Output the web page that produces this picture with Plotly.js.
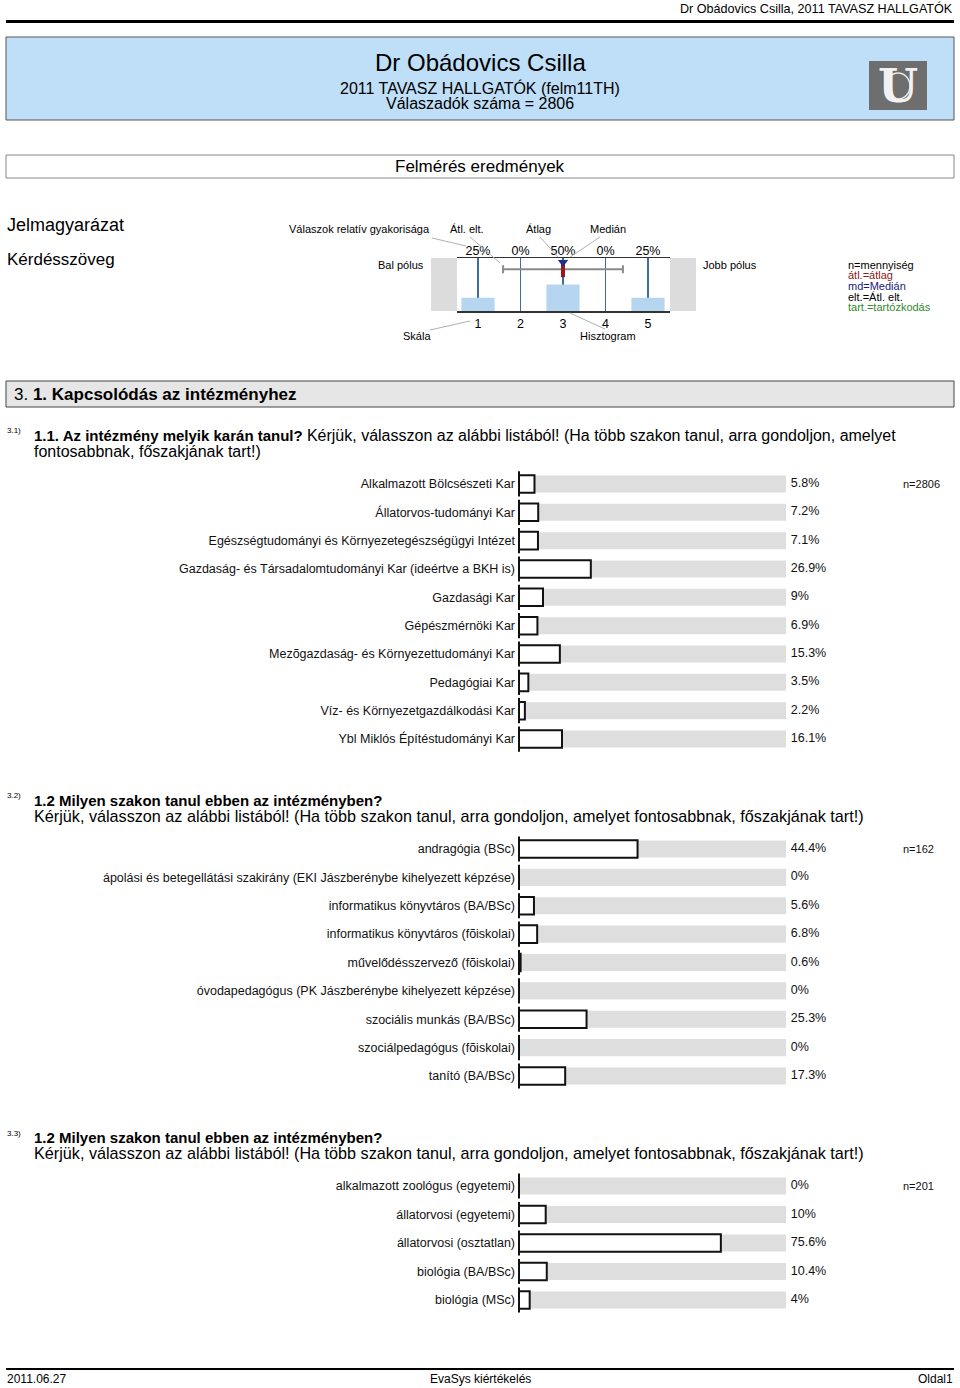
<!DOCTYPE html>
<html><head><meta charset="utf-8">
<script src="https://cdn.plot.ly/plotly-3.0.1.min.js"></script>
<style>html,body{margin:0;padding:0;background:#fff}#chart{width:960px;height:1388px}</style>
</head><body><div id="chart"></div>
<script>
// ---- legend example data ----
const legendScale = [1, 2, 3, 4, 5];
const legendFreq = [25, 0, 50, 0, 25];
const legendMean = 3;
const legendMedian = 3;
const legendSd = 1.41;

// ---- question 3.1 ----
const q1Categories = ["Alkalmazott Bölcsészeti Kar", "Állatorvos-tudományi Kar", "Egészségtudományi és Környezetegészségügyi Intézet", "Gazdaság- és Társadalomtudományi Kar (ideértve a BKH is)", "Gazdasági Kar", "Gépészmérnöki Kar", "Mezõgazdaság- és Környezettudományi Kar", "Pedagógiai Kar", "Víz- és Környezetgazdálkodási Kar", "Ybl Miklós Építéstudományi Kar"];
const q1Values = [5.8, 7.2, 7.1, 26.9, 9, 6.9, 15.3, 3.5, 2.2, 16.1];
const q1N = 2806;

// ---- question 3.2 ----
const q2Categories = ["andragógia (BSc)", "ápolási és betegellátási szakirány (EKI Jászberénybe kihelyezett képzése)", "informatikus könyvtáros (BA/BSc)", "informatikus könyvtáros (fõiskolai)", "művelődésszervező (fõiskolai)", "óvodapedagógus (PK Jászberénybe kihelyezett képzése)", "szociális munkás (BA/BSc)", "szociálpedagógus (fõiskolai)", "tanító (BA/BSc)"];
const q2Values = [44.4, 0, 5.6, 6.8, 0.6, 0, 25.3, 0, 17.3];
const q2N = 162;

// ---- question 3.3 ----
const q3Categories = ["alkalmazott zoológus (egyetemi)", "állatorvosi (egyetemi)", "állatorvosi (osztatlan)", "biológia (BA/BSc)", "biológia (MSc)"];
const q3Values = [0, 10, 75.6, 10.4, 4];
const q3N = 201;

const W = 960, H = 1388;
const FONT = "Liberation Sans, Arial, sans-serif";
const px = x => x / W;
const py = y => 1 - y / H;

const shapes = [];
const annotations = [];
function rect(x0, y0, x1, y1, fill, line, lw) {
  shapes.push({type: 'rect', xref: 'paper', yref: 'paper', x0: px(x0), x1: px(x1), y0: py(y1), y1: py(y0),
    fillcolor: fill, line: {color: line || fill, width: lw === undefined ? 1 : lw}, layer: 'below'});
}
function seg(x0, y0, x1, y1, color, w) {
  shapes.push({type: 'line', xref: 'paper', yref: 'paper', x0: px(x0), x1: px(x1), y0: py(y0), y1: py(y1),
    line: {color: color, width: w || 1}});
}
function txt(x, y, text, size, anchor, color, extra) {
  annotations.push(Object.assign({xref: 'paper', yref: 'paper', x: px(x), y: py(y), text: text, showarrow: false,
    xanchor: anchor || 'left', yanchor: 'middle', borderpad: 0,
    font: {family: FONT, size: size, color: color || '#000'}}, extra || {}));
}

// header
txt(954, 9, "Dr Obádovics Csilla, 2011 TAVASZ HALLGATÓK", 12.6, 'right');
rect(6, 20, 954, 23, '#000', '#000', 0);
rect(6, 37, 954, 120, '#bfdef7', '#555', 1);
txt(480, 63, "Dr Obádovics Csilla", 24, 'center');
txt(480, 88, "2011 TAVASZ HALLGATÓK (felm11TH)", 16, 'center');
txt(480, 104, "Válaszadók száma = 2806", 16, 'center');
rect(869, 61, 927, 110, '#6e6e6e', '#6e6e6e', 0);
shapes.push({type: 'circle', xref: 'paper', yref: 'paper', x0: px(886), x1: px(910), y0: py(99), y1: py(73), line: {color: '#e8e8e8', width: 1.5}});
txt(898, 86, "<b>U</b>", 46, 'center', '#f2f2f2', {font: {family: 'DejaVu Serif, serif', size: 46, color: '#f2f2f2'}});

rect(6, 155, 954, 178, '#fff', '#888', 1);
txt(480, 167, "Felmérés eredmények", 17, 'center');

// legend
txt(6, 225, "Jelmagyarázat", 18);
txt(6, 260, "Kérdésszöveg", 17);
rect(431, 258, 457, 311, '#dcdcdc', '#dcdcdc', 0);
rect(670, 258, 696, 311, '#dcdcdc', '#dcdcdc', 0);
txt(431, 229, "Válaszok relatív gyakorisága", 11, 'right');
txt(467, 229, "Átl. elt.", 11, 'center');
txt(538, 229, "Átlag", 11, 'center');
txt(608, 229, "Medián", 11, 'center');
txt(425, 265, "Bal pólus", 11, 'right');
txt(702, 265, "Jobb pólus", 11, 'left');
txt(417, 336, "Skála", 11, 'center');
txt(608, 336, "Hisztogram", 11, 'center');
const LG = '#b0b0b0';
seg(432, 238, 466, 246, LG); seg(470, 237, 500, 263, LG); seg(540, 237, 558, 257, LG);
seg(600, 237, 570, 257, LG); seg(430, 330, 470, 321, LG); seg(570, 313, 605, 329, LG);
txt(847, 265, "n=mennyiség", 11, 'left', '#000');
txt(847, 275, "átl.=átlag", 11, 'left', '#8b1a1a');
txt(847, 286, "md=Medián", 11, 'left', '#1a1a80');
txt(847, 297, "elt.=Átl. elt.", 11, 'left', '#000');
txt(847, 307, "tart.=tartózkodás", 11, 'left', '#2e8b2e');

// section header
rect(6, 381, 954, 407, '#e6e6e6', '#444', 1);
txt(13, 394, "3. <b>1. Kapcsolódás az intézményhez</b>", 17);

// questions (bold part 15px, regular part ~16px)
const R = s => "<span style='font-size:16px'>" + s + "</span>";
const qRest = "Kérjük, válasszon az alábbi listából! (Ha több szakon tanul, arra gondoljon, amelyet";
txt(6, 430, "3.1)", 8);
txt(33, 435, "<b>1.1. Az intézmény melyik karán tanul?</b> " + R(qRest), 15);
txt(33, 452, "fontosabbnak, főszakjának tart!)", 16);
txt(6, 796, "3.2)", 8);
txt(33, 800, "<b>1.2 Milyen szakon tanul ebben az intézményben?</b>", 15);
txt(33, 816, qRest + " fontosabbnak, főszakjának tart!)", 16.2);
txt(6, 1133, "3.3)", 8);
txt(33, 1137, "<b>1.2 Milyen szakon tanul ebben az intézményben?</b>", 15);
txt(33, 1153, qRest + " fontosabbnak, főszakjának tart!)", 16.2);

// footer
rect(6, 1368, 954, 1370, '#000', '#000', 0);
txt(6, 1379, "2011.06.27", 12, 'left');
txt(480, 1379, "EvaSys kiértékelés", 12, 'center');
txt(954, 1379, "Oldal1", 12, 'right');

const traces = [];
const layout = {
  width: W, height: H, margin: {l: 0, r: 0, t: 0, b: 0}, showlegend: false,
  paper_bgcolor: '#fff', plot_bgcolor: 'rgba(0,0,0,0)', barmode: 'overlay',
  font: {family: FONT, size: 12, color: '#000'}, shapes: shapes, annotations: annotations, hovermode: false
};

// legend histogram axes
layout.xaxis = {domain: [px(457), px(670)], range: [0.506, 5.518], anchor: 'y', tickvals: legendScale,
  showgrid: true, gridcolor: '#3d6e9e', gridwidth: 1.5, zeroline: false, showline: true, mirror: true,
  linecolor: '#333', linewidth: 1.5, ticks: '', tickfont: {size: 12.5}, automargin: false, fixedrange: true};
layout.yaxis = {domain: [py(311), py(258)], range: [0, 100], anchor: 'x', visible: false, fixedrange: true};
traces.push({type: 'bar', x: legendScale, y: legendFreq, width: 0.78, marker: {color: '#b5d5f0', line: {width: 0}}, xaxis: 'x', yaxis: 'y'});
traces.push({type: 'scatter', mode: 'text', x: legendScale, y: legendScale.map(() => 100), text: legendFreq.map(v => v + '%'),
  textposition: 'top center', textfont: {size: 12.5}, cliponaxis: false, xaxis: 'x', yaxis: 'y'});
traces.push({type: 'scatter', mode: 'markers', x: [legendMean], y: [79], marker: {size: 1, opacity: 0},
  error_x: {type: 'data', array: [legendSd], color: '#8a8a8a', thickness: 2, width: 4}, cliponaxis: false, xaxis: 'x', yaxis: 'y'});
traces.push({type: 'scatter', mode: 'markers', x: [legendMean], y: [77], marker: {symbol: 'line-ns', size: 10, line: {width: 4, color: '#9b1b1b'}},
  cliponaxis: false, xaxis: 'x', yaxis: 'y'});
traces.push({type: 'scatter', mode: 'markers', x: [legendMedian], y: [92], marker: {symbol: 'triangle-down', size: 9, color: '#1f2f8f'},
  cliponaxis: false, xaxis: 'x', yaxis: 'y'});

function chart(k, cats, vals, n, yTop, yBot) {
  const xa = 'x' + k, ya = 'y' + k;
  layout['xaxis' + k] = {domain: [px(519), px(786)], range: [0, 100], anchor: ya, visible: false, fixedrange: true};
  layout['yaxis' + k] = {domain: [py(yBot), py(yTop)], anchor: xa, type: 'category', categoryarray: cats,
    range: [cats.length - 0.5, -0.5], autorange: false, showgrid: false, zeroline: false, showline: false, ticks: '', ticklabelstandoff: 3,
    tickfont: {size: 12.5, color: '#111'}, automargin: false, fixedrange: true};
  traces.push({type: 'bar', orientation: 'h', y: cats, x: cats.map(() => 100), width: 0.6,
    marker: {color: '#dedede', line: {width: 0}}, xaxis: xa, yaxis: ya});
  traces.push({type: 'bar', orientation: 'h', y: cats, x: vals, width: 0.62,
    marker: {color: '#fff', line: {color: '#111', width: 2}}, xaxis: xa, yaxis: ya});
  traces.push({type: 'scatter', mode: 'markers', y: cats, x: cats.map(() => 0),
    marker: {symbol: 'line-ns', size: 18, line: {width: 2, color: '#111'}}, cliponaxis: false, xaxis: xa, yaxis: ya});
  traces.push({type: 'scatter', mode: 'markers+text', y: cats, x: cats.map(() => 100), text: vals.map(v => v + '%'),
    textposition: 'middle right', marker: {size: 6, opacity: 0}, textfont: {size: 12.5, color: '#111'},
    cliponaxis: false, xaxis: xa, yaxis: ya});
  annotations.push({xref: 'paper', yref: ya, x: px(901), y: cats[0], text: 'n=' + n, showarrow: false,
    xanchor: 'left', yanchor: 'middle', font: {family: FONT, size: 11, color: '#111'}});
}
chart(2, q1Categories, q1Values, q1N, 469.8, 753.2);
chart(3, q2Categories, q2Values, q2N, 834.8, 1090.2);
chart(4, q3Categories, q3Values, q3N, 1171.75, 1314.25);

Plotly.newPlot('chart', traces, layout, {staticPlot: true, displayModeBar: false});
</script></body></html>
